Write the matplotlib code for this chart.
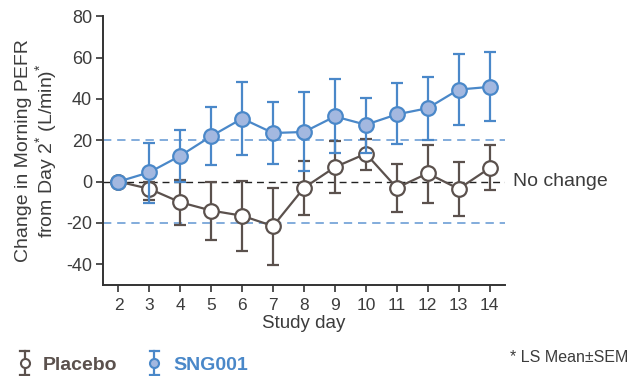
import matplotlib.pyplot as plt
from matplotlib.lines import Line2D
from matplotlib.legend_handler import HandlerBase
import numpy as np

plt.rcParams['font.family'] = ['Liberation Sans', 'DejaVu Sans']
plt.rcParams['mathtext.fontset'] = 'custom'
plt.rcParams['mathtext.rm'] = 'Liberation Sans'
plt.rcParams['mathtext.default'] = 'regular'

# data
days = [2, 3, 4, 5, 6, 7, 8, 9, 10, 11, 12, 13, 14]

sng_mean = [0, 4.5, 12.5, 22, 30.5, 23.5, 24, 31.5, 27.5, 32.5, 35.5, 44.5, 45.8]
sng_hi = [0, 18.5, 25, 36, 48, 38.5, 43.5, 49.5, 40.5, 47.5, 50.5, 61.5, 62.5]
sng_lo = [0, -10.5, 0, 8, 13, 8.5, 5, 14, 14, 18, 20, 27.5, 29.5]

pla_mean = [0, -3.5, -10, -14, -16.5, -21.5, -3, 7, 13.5, -3, 4, -3.5, 6.5]
pla_hi = [0, 0, 1, 0, 0.5, -3, 10, 19.5, 20.5, 8.5, 17.5, 9.5, 17.5]
pla_lo = [0, -9, -21, -28, -33.5, -40.5, -16, -5.5, 5.5, -14.5, -10.5, -16.5, -4]

blue = '#4a88c9'
blue_face = '#a3b8e0'
brown = '#5b514d'
text_col = '#3c3c3c'


class ErrKey:
    def __init__(self, color, face):
        self.color = color
        self.face = face


class VErrHandler(HandlerBase):
    # small vertical error bar with a marker, as in the original legend
    def create_artists(self, legend, orig_handle, xdescent, ydescent, width, height,
                       fontsize, trans):
        cx = -xdescent + width / 2
        cy = -ydescent + height / 2
        h = 8.5
        c = orig_handle.color
        stem = Line2D([cx, cx], [cy - h, cy + h], color=c, lw=1.6)
        cap1 = Line2D([cx - 3.5, cx + 3.5], [cy + h, cy + h], color=c, lw=1.6)
        cap2 = Line2D([cx - 3.5, cx + 3.5], [cy - h, cy - h], color=c, lw=1.6)
        mk = Line2D([cx], [cy], marker='o', ms=6.5, mfc=orig_handle.face, mec=c,
                    mew=1.5, ls='none')
        arts = [stem, cap1, cap2, mk]
        for a in arts:
            a.set_transform(trans)
        return arts


fig = plt.figure(figsize=(6.36, 3.76), dpi=100)
ax = fig.add_axes([0.162, 0.242, 0.632, 0.715])

# reference lines
ax.axhline(20, color='#6d9ed6', lw=1.2, ls=(0, (5, 3.5)), zorder=1)
ax.axhline(-20, color='#6d9ed6', lw=1.2, ls=(0, (5, 3.5)), zorder=1)
ax.axhline(0, color='#222222', lw=1.0, ls=(0, (5, 3.5)), zorder=1)

pm = np.array(pla_mean)
perr = [pm - np.array(pla_lo), np.array(pla_hi) - pm]
sm = np.array(sng_mean)
serr = [sm - np.array(sng_lo), np.array(sng_hi) - sm]

ax.errorbar(days, pla_mean, yerr=perr, color=brown, lw=1.6, elinewidth=1.6,
            capsize=4, capthick=1.6, marker='o', ms=10.5, mfc='white', mec=brown,
            mew=1.6, zorder=3)
ax.errorbar(days, sng_mean, yerr=serr, color=blue, lw=1.6, elinewidth=1.6,
            capsize=4, capthick=1.6, marker='o', ms=10.5, mfc=blue_face, mec=blue,
            mew=1.6, zorder=4)

ax.set_xlim(1.5, 14.5)
ax.set_ylim(-50, 80)
ax.set_xticks(days)
ax.set_yticks([-40, -20, 0, 20, 40, 60, 80])
ax.set_yticklabels(['-40', '-20', '0', '20', '40', '60', '80'])
for s in ['top', 'right']:
    ax.spines[s].set_visible(False)
for s in ['left', 'bottom']:
    ax.spines[s].set_color('#333333')
    ax.spines[s].set_linewidth(1.4)
ax.tick_params(axis='both', colors='#333333', labelcolor=text_col,
               width=1.2, length=5, pad=3)
ax.tick_params(axis='y', labelsize=13)
ax.tick_params(axis='x', labelsize=12.5, pad=4)

ax.set_xlabel('Study day', fontsize=13.5, color=text_col, labelpad=2)
ax.set_ylabel('Change in Morning PEFR\nfrom Day $2^{*}$ (L/min$)^{*}$', fontsize=14,
              color=text_col, linespacing=1.05, labelpad=5)

ax.text(1.02, 0, 'No change', transform=ax.get_yaxis_transform(), fontsize=14,
        color=text_col, va='center', ha='left')

# legend
leg = fig.legend([ErrKey(brown, 'white'), ErrKey(blue, blue_face)], ['Placebo', 'SNG001'],
                 handler_map={ErrKey: VErrHandler()}, loc='center left',
                 bbox_to_anchor=(0.008, 0.03), ncol=2, frameon=False,
                 borderaxespad=0.3, borderpad=0.2,
                 prop={'size': 14, 'weight': 'bold'}, handlelength=1.0,
                 handletextpad=0.45, columnspacing=1.4)
leg.get_texts()[0].set_color(brown)
leg.get_texts()[1].set_color(blue)

fig.text(0.988, 0.048, '* LS Mean\u00b1SEM', fontsize=11.5, color=text_col,
         ha='right', va='center')

fig.savefig('out.png', dpi=100)
